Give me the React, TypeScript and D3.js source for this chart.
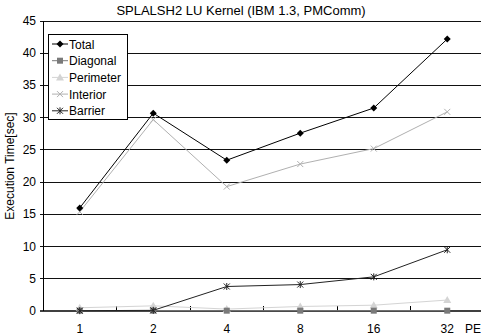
import React, { useEffect, useRef } from 'react';
import * as d3 from 'd3';

const categories = ['1', '2', '4', '8', '16', '32'];
const seriesNames = ['Total', 'Diagonal', 'Perimeter', 'Interior', 'Barrier'];
const total = [16.0, 30.7, 23.4, 27.6, 31.5, 42.2];
const diagonal = [0.05, 0.05, 0.05, 0.05, 0.05, 0.05];
const perimeter = [0.5, 0.8, 0.3, 0.7, 0.9, 1.7];
const interior = [15.4, 29.7, 19.3, 22.8, 25.2, 30.9];
const barrier = [0.05, 0.1, 3.8, 4.1, 5.3, 9.5];
const yTicks = [0, 5, 10, 15, 20, 25, 30, 35, 40, 45];

const W = 481;
const H = 336;

type Marker = 'diamond' | 'square' | 'triangle' | 'cross' | 'star';

export default function App() {
  const svgRef = useRef<SVGSVGElement>(null);

  useEffect(() => {
    if (!svgRef.current) return;
    const svg = d3.select(svgRef.current);
    svg.selectAll('*').remove();

    const left = 43;
    const top = 21;
    const bottom = 311;
    const font = 'Liberation Sans, Arial, sans-serif';

    const x = d3.scaleBand().domain(categories).range([left, left + 6 * 73.5]);
    const y = d3.scaleLinear().domain([0, 45]).range([bottom, top]);
    const cx = (c: string) => (x(c) || 0) + x.bandwidth() / 2;

    // lignes de grille
    svg.append('g')
      .selectAll('line')
      .data(yTicks.filter(t => t > 0))
      .enter()
      .append('line')
      .attr('x1', left - 3)
      .attr('x2', W)
      .attr('y1', d => y(d))
      .attr('y2', d => y(d))
      .attr('stroke', '#111')
      .attr('stroke-width', 1)
      .attr('shape-rendering', 'crispEdges');

    // axe y
    svg.append('line')
      .attr('x1', left).attr('x2', left)
      .attr('y1', top).attr('y2', bottom)
      .attr('stroke', '#000')
      .attr('shape-rendering', 'crispEdges');

    svg.append('g')
      .selectAll('text')
      .data(yTicks)
      .enter()
      .append('text')
      .attr('x', left - 7)
      .attr('y', d => y(d) + 4)
      .attr('text-anchor', 'end')
      .style('font-family', font)
      .style('font-size', '12px')
      .text(d => d);

    // axe x
    svg.append('line')
      .attr('x1', left - 3).attr('x2', W)
      .attr('y1', bottom).attr('y2', bottom)
      .attr('stroke', '#000')
      .attr('stroke-width', 1.5);

    svg.append('g')
      .selectAll('line')
      .data(categories.slice(1))
      .enter()
      .append('line')
      .attr('x1', d => x(d) || 0)
      .attr('x2', d => x(d) || 0)
      .attr('y1', bottom - 5)
      .attr('y2', bottom)
      .attr('stroke', '#000')
      .attr('shape-rendering', 'crispEdges');

    svg.append('g')
      .selectAll('text')
      .data(categories)
      .enter()
      .append('text')
      .attr('x', d => cx(d))
      .attr('y', 333)
      .attr('text-anchor', 'middle')
      .style('font-family', font)
      .style('font-size', '12px')
      .text(d => d);

    svg.append('text')
      .attr('x', 465)
      .attr('y', 333)
      .style('font-family', font)
      .style('font-size', '12px')
      .text('PE');

    svg.append('text')
      .attr('transform', `translate(14,${(top + bottom) / 2}) rotate(-90)`)
      .attr('text-anchor', 'middle')
      .style('font-family', font)
      .style('font-size', '12px')
      .text('Execution Time[sec]');

    svg.append('text')
      .attr('x', 241)
      .attr('y', 15)
      .attr('text-anchor', 'middle')
      .style('font-family', font)
      .style('font-size', '13px')
      .text('SPLALSH2 LU Kernel (IBM 1.3, PMComm)');

    const drawMarker = (g: d3.Selection<SVGGElement, unknown, null, undefined>, m: Marker, px: number, py: number, color: string) => {
      if (m === 'diamond') {
        g.append('path').attr('d', `M${px},${py - 3.5}L${px + 3.5},${py}L${px},${py + 3.5}L${px - 3.5},${py}Z`).attr('fill', color);
      } else if (m === 'square') {
        g.append('rect').attr('x', px - 3).attr('y', py - 3).attr('width', 6).attr('height', 6).attr('fill', color);
      } else if (m === 'triangle') {
        g.append('path').attr('d', `M${px},${py - 4}L${px + 4},${py + 3}L${px - 4},${py + 3}Z`).attr('fill', color);
      } else if (m === 'cross') {
        g.append('path').attr('d', `M${px - 3},${py - 3}L${px + 3},${py + 3}M${px - 3},${py + 3}L${px + 3},${py - 3}`).attr('stroke', color).attr('stroke-width', 1);
      } else {
        g.append('path').attr('d', `M${px - 3},${py - 3}L${px + 3},${py + 3}M${px - 3},${py + 3}L${px + 3},${py - 3}M${px},${py - 3.5}L${px},${py + 3.5}`).attr('stroke', color).attr('stroke-width', 1);
      }
    };

    const series: { name: string; values: number[]; color: string; marker: Marker }[] = [
      { name: seriesNames[2], values: perimeter, color: '#d4d4d4', marker: 'triangle' },
      { name: seriesNames[1], values: diagonal, color: '#7a7a7a', marker: 'square' },
      { name: seriesNames[3], values: interior, color: '#b0b0b0', marker: 'cross' },
      { name: seriesNames[4], values: barrier, color: '#222', marker: 'star' },
      { name: seriesNames[0], values: total, color: '#000', marker: 'diamond' },
    ];

    const line = d3.line<number>()
      .x((_, i) => cx(categories[i]))
      .y(d => y(d));

    series.forEach(s => {
      const g = svg.append('g');
      g.append('path')
        .datum(s.values)
        .attr('fill', 'none')
        .attr('stroke', s.color)
        .attr('stroke-width', 1)
        .attr('d', line);
      s.values.forEach((v, i) => drawMarker(g, s.marker, cx(categories[i]), y(v), s.color));
    });

    // légende
    const legend = svg.append('g').attr('transform', 'translate(48,34)');
    legend.append('rect')
      .attr('x', 0.5).attr('y', 0.5)
      .attr('width', 79).attr('height', 85)
      .attr('fill', '#fff')
      .attr('stroke', '#000');

    const order: Marker[] = ['diamond', 'square', 'triangle', 'cross', 'star'];
    const colors = ['#000', '#7a7a7a', '#d4d4d4', '#b0b0b0', '#222'];
    seriesNames.forEach((n, i) => {
      const ly = 10 + i * 16.7;
      const lg = legend.append('g');
      lg.append('line')
        .attr('x1', 4).attr('x2', 20)
        .attr('y1', ly).attr('y2', ly)
        .attr('stroke', colors[i]);
      drawMarker(lg, order[i], 12, ly, colors[i]);
      lg.append('text')
        .attr('x', 21)
        .attr('y', ly + 4.5)
        .style('font-family', font)
        .style('font-size', '12px')
        .text(n);
    });
  }, []);

  return (
    <div style={{ position: 'absolute', left: 0, top: 0 }}>
      <svg ref={svgRef} width={W} height={H} style={{ display: 'block', background: '#fff' }}></svg>
    </div>
  );
}
